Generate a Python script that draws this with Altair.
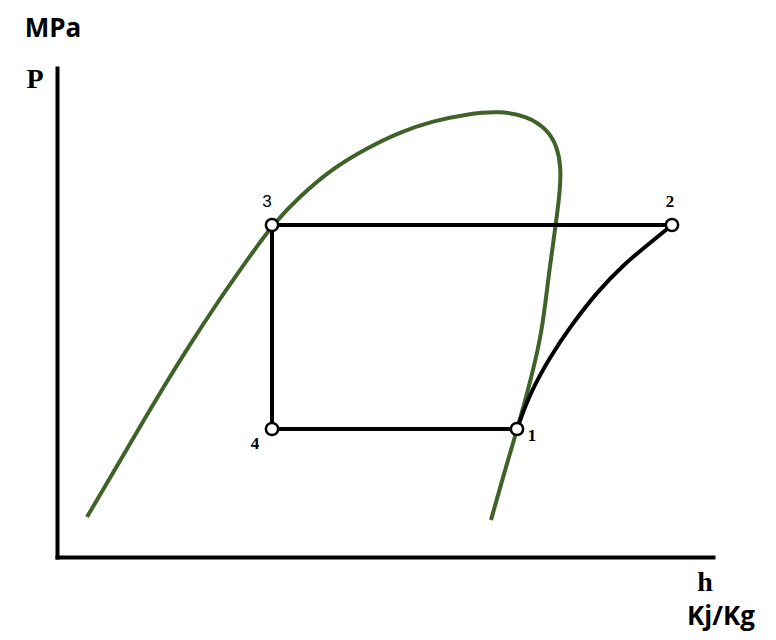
import altair as alt
import pandas as pd

# Saturation dome (enthalpy h, pressure P) in arbitrary diagram units
dome_h = [30, 50, 70, 88, 106, 130, 160, 188, 216, 243, 276, 310, 343, 376,
          410, 443, 470, 490, 500, 504, 503, 500, 496, 491, 485, 473, 460, 446, 434]
dome_P = [40, 74, 108, 139, 169, 208, 254, 294, 333, 361, 389, 409, 425, 436,
          443, 446, 441, 428, 411, 390, 367, 342, 312, 277, 224, 174, 127, 80, 37]

# Cycle state points
state_labels = ["1", "2", "3", "4"]
state_h = [460, 615, 215, 215]
state_P = [128, 332, 332, 128]

# Compression 1 -> 2
comp_h = [460, 473, 493, 513, 540, 567, 593, 615]
comp_P = [128, 164, 200, 230, 265, 293, 314, 332]

# Condenser / expansion / evaporator path 2 -> 3 -> 4 -> 1
path_order = ["2", "3", "4", "1"]

GREEN = "#3f6228"

dome_df = pd.DataFrame({"h": dome_h, "P": dome_P, "i": list(range(len(dome_h)))})
comp_df = pd.DataFrame({"h": comp_h, "P": comp_P, "i": list(range(len(comp_h)))})
pts = dict(zip(state_labels, zip(state_h, state_P)))
path_df = pd.DataFrame({
    "h": [pts[k][0] for k in path_order],
    "P": [pts[k][1] for k in path_order],
    "i": list(range(len(path_order))),
})
state_df = pd.DataFrame({"label": state_labels, "h": state_h, "P": state_P})

xs = alt.Scale(domain=[0, 656], nice=False, zero=False)
ys = alt.Scale(domain=[0, 489], nice=False, zero=False)
xax = alt.Axis(labels=False, ticks=False, title=None, grid=False, domainWidth=4,
               domainColor="black", domainCap="square")
yax = alt.Axis(labels=False, ticks=False, title=None, grid=False, domainWidth=4,
               domainColor="black", domainCap="square")

base_x = alt.X("h:Q", scale=xs, axis=xax)
base_y = alt.Y("P:Q", scale=ys, axis=yax)

dome = alt.Chart(dome_df).mark_line(color=GREEN, strokeWidth=4, interpolate="basis").encode(
    x=base_x, y=base_y, order="i:Q")

comp = alt.Chart(comp_df).mark_line(color="black", strokeWidth=4, interpolate="basis").encode(
    x=alt.X("h:Q", scale=xs), y=alt.Y("P:Q", scale=ys), order="i:Q")

path = alt.Chart(path_df).mark_line(color="black", strokeWidth=4).encode(
    x=alt.X("h:Q", scale=xs), y=alt.Y("P:Q", scale=ys), order="i:Q")

circles = alt.Chart(state_df).mark_point(shape="circle", filled=True, fill="white", stroke="black",
                                         strokeWidth=2.5, size=150, opacity=1).encode(
    x=alt.X("h:Q", scale=xs), y=alt.Y("P:Q", scale=ys))

# Labels
num_text = ["3", "2", "1", "4"]
num_h = [210, 613, 475, 198]
num_P = [355, 355, 121, 113]
num_df = pd.DataFrame({"t": num_text, "h": num_h, "P": num_P})

nums_sans = alt.Chart(num_df[num_df.t == "3"]).mark_text(
    font="Liberation Sans", fontSize=17, fontWeight="normal", color="black").encode(
    x=alt.X("h:Q", scale=xs), y=alt.Y("P:Q", scale=ys), text="t:N")
nums_serif = alt.Chart(num_df[num_df.t != "3"]).mark_text(
    font="Liberation Serif", fontSize=17, fontWeight="bold", color="black").encode(
    x=alt.X("h:Q", scale=xs), y=alt.Y("P:Q", scale=ys), text="t:N")

axis_letters = ["P", "h"]
axis_h = [-22, 648]
axis_P = [477, -26]
let_df = pd.DataFrame({"t": axis_letters, "h": axis_h, "P": axis_P})
letters = alt.Chart(let_df).mark_text(
    font="Liberation Serif", fontSize=28, fontWeight="bold", color="black").encode(
    x=alt.X("h:Q", scale=xs), y=alt.Y("P:Q", scale=ys), text="t:N")

mpa = alt.Chart(pd.DataFrame({"t": ["MPa"], "h": [-4], "P": [520]})).mark_text(
    font="Open Sans", fontWeight="bold", fontSize=26, color="black", baseline="alphabetic").encode(
    x=alt.X("h:Q", scale=xs), y=alt.Y("P:Q", scale=ys), text="t:N")

kjkg = alt.Chart(pd.DataFrame({"t": ["Kj/Kg"], "h": [664], "P": [-68]})).mark_text(
    font="Open Sans", fontWeight="bold", fontSize=26, color="black", baseline="alphabetic").encode(
    x=alt.X("h:Q", scale=xs), y=alt.Y("P:Q", scale=ys), text="t:N")

chart = alt.layer(dome, comp, path, circles, nums_sans, nums_serif, letters, mpa, kjkg).properties(
    width=656, height=489,
    padding={"left": 49, "top": 60, "right": 55, "bottom": 75},
    autosize=alt.AutoSizeParams(type="none"),
).configure_view(stroke=None)

chart.save("out.html", embed_options={"renderer": "svg", "actions": False})
